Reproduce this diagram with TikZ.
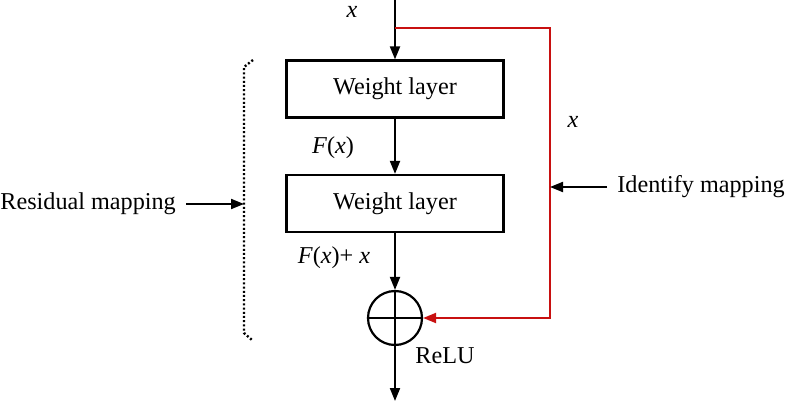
\documentclass[tikz,border=0pt]{standalone}
\usepackage{fontspec}
\setmainfont{Liberation Serif}
\usetikzlibrary{arrows.meta, positioning}
\definecolor{skipred}{RGB}{200,16,16}
\tikzstyle{arrow} = [line width=1pt,-{Triangle[length=6.5pt,width=5pt]}]
\tikzstyle{connect} = [line width=1pt,-]
\tikzstyle{layer} = [rectangle, draw=black, line width=1.1pt, minimum width=108.5pt, minimum height=28.5pt, inner sep=0pt]
\tikzstyle{adder} = [circle, draw=black, line width=1.1pt, minimum size=27pt, inner sep=0pt]
\tikzstyle{skip} = [line width=1pt, draw=skipred, -{Triangle[length=6.5pt,width=5pt]}]
\tikzstyle{side} = [inner xsep=5pt, inner ysep=0pt]
\tikzstyle{brace} = [line width=1.2pt, dash pattern=on 1pt off 1.1pt]

\begin{document}
\begin{tikzpicture}[x=0.5pt,y=-0.5pt,font=\fontsize{12.1}{14}\selectfont]
\useasboundingbox (0,0) rectangle (788,401);

\node(w1)[layer] at (395,89){Weight layer};
\node(w2)[layer] at (395,203.5){Weight layer};
\node(sum)[adder] at (395,318){};

\coordinate (in) at (395,0);
\coordinate (split) at (395,28);
\coordinate (out) at (395,401);
\coordinate (rt) at (550,28);
\coordinate (rb) at (rt |- sum);

% main path
\draw [connect] (in) -- (split);
\draw [arrow] (split) -- (w1);
\draw [arrow] (w1) -- (w2);
\draw [arrow] (w2) -- (sum);
\draw [arrow] (sum) -- (out);
\draw [connect] (sum.north) -- (sum.south);
\draw [connect] (sum.west) -- (sum.east);

% shortcut
\draw [skip] (split) -- (rt) -- (rb) -- (sum.east);

\node(xin)[inner sep=1pt] at (352,12){\textit{x}};
\node(fx) at (333,148){\textit{F}(\textit{x})};
\node(fxx) at (334,258){\textit{F}(\textit{x})+ \textit{x}};
\node(relu) at (445,356){ReLU};
\node(xskip) at (573,122){\textit{x}};

% side labels
\node(idmap)[side, anchor=west] at (607,187){Identify mapping};
\node(resmap)[side, anchor=west] at (-10,204){Residual mapping};
\coordinate (bt) at (244,67);
\coordinate (bb) at (244,333);
\coordinate (bm) at (244,204);
\draw [brace] (253,60) -- (bt) -- (bb) -- (252,340);
\draw [arrow] (idmap) -- (idmap -| rt);
\draw [arrow] (resmap) -- (resmap -| bm);

\end{tikzpicture}
\end{document}
